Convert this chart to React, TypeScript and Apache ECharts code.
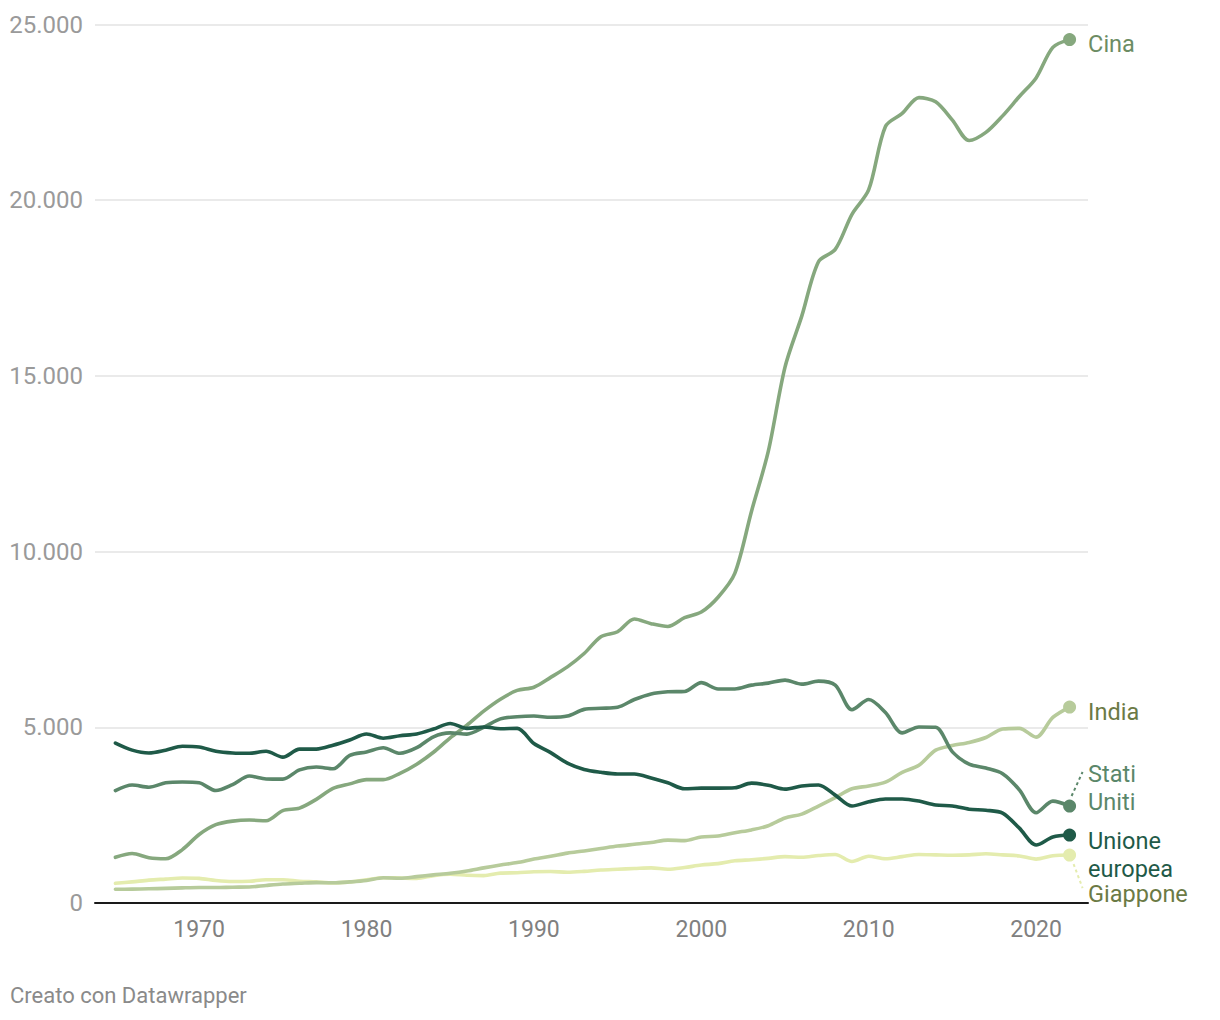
import React, { useEffect, useRef } from "react";
import * as echarts from "echarts";

const FIRST_YEAR = 1965;
const LAST_YEAR = 2022;
const years: number[] = [];
for (let y = FIRST_YEAR; y <= LAST_YEAR; y++) years.push(y);

const cina = [
  1300, 1410, 1290, 1260, 1520, 1950, 2230, 2330, 2360, 2340, 2630, 2700, 2950, 3260, 3390, 3510, 3510, 3690, 3950, 4290,
  4700, 5060, 5460, 5800, 6050, 6140, 6420, 6720, 7100, 7580, 7720, 8080, 7950, 7870, 8120, 8280, 8700, 9380, 11150, 12850,
  15250, 16700, 18250, 18600, 19600, 20300, 22100, 22470, 22920, 22800, 22280, 21700, 21930, 22400, 22950, 23480, 24350, 24570,
];
const statiUniti = [
  3200, 3356, 3295, 3420, 3445, 3420, 3200, 3370, 3612, 3530, 3525, 3790, 3870, 3820, 4200, 4300, 4420, 4260, 4420, 4730,
  4840, 4806, 5000, 5240, 5300, 5320, 5285, 5320, 5510, 5540, 5570, 5790, 5950, 6010, 6020, 6270, 6090, 6090, 6200, 6257,
  6342, 6228, 6314, 6200, 5500, 5790, 5420, 4840, 5010, 5000, 4300, 3950, 3840, 3680, 3220, 2570, 2900, 2760,
];
const unioneEuropea = [
  4550, 4350, 4270, 4350, 4460, 4440, 4320, 4270, 4260, 4320, 4150, 4380, 4380, 4490, 4640, 4810, 4690, 4760, 4810, 4950,
  5110, 4970, 5010, 4960, 4970, 4540, 4280, 3980, 3800, 3720, 3670, 3670, 3560, 3420, 3250, 3270, 3270, 3280, 3410, 3350,
  3240, 3330, 3360, 3070, 2760, 2880, 2960, 2960, 2900, 2790, 2760, 2670, 2640, 2560, 2130, 1650, 1880, 1934,
];
const india = [
  390, 395, 405, 415, 430, 440, 440, 450, 455, 500, 540, 560, 580, 575, 600, 640, 720, 705, 750, 800,
  845, 910, 1000, 1080, 1150, 1250, 1330, 1420, 1480, 1550, 1620, 1670, 1720, 1790, 1775, 1880, 1905, 2000, 2080, 2200,
  2420, 2530, 2760, 3000, 3250, 3330, 3440, 3720, 3920, 4350, 4480, 4570, 4710, 4950, 4970, 4720, 5280, 5575,
];
const giappone = [
  560, 600, 650, 680, 710, 700, 640, 610, 620, 660, 660, 620, 600, 570, 600, 660, 720, 710, 700, 780,
  820, 790, 780, 850, 860, 890, 895, 875, 900, 940, 960, 980, 1000, 960, 1010, 1080, 1120, 1200, 1230, 1270,
  1320, 1300, 1350, 1380, 1180, 1330, 1260, 1320, 1380, 1370, 1360, 1370, 1400, 1370, 1340, 1250, 1345, 1365,
];

const Y_TICKS = [0, 5000, 10000, 15000, 20000, 25000];
const X_LABEL_STEP = 10;

type S = { name: string; label: string; values: number[]; color: string; textColor: string; dy: number };
const seriesDefs: S[] = [
  { name: "Giappone", label: "Giappone", values: giappone, color: "#e4ecae", textColor: "#6b7a45", dy: 39 },
  { name: "India", label: "India", values: india, color: "#b7cb9b", textColor: "#6b7a45", dy: 5 },
  { name: "Cina", label: "Cina", values: cina, color: "#86a87e", textColor: "#6c8c63", dy: 4 },
  { name: "Stati Uniti", label: "Stati\nUniti", values: statiUniti, color: "#5b876a", textColor: "#5b876a", dy: -18 },
  { name: "Unione europea", label: "Unione\neuropea", values: unioneEuropea, color: "#1f5a48", textColor: "#1f5a48", dy: 20 },
];

const fmtThousands = (v: number) => String(v).replace(/\B(?=(\d{3})+(?!\d))/g, ".");

export default function App() {
  const ref = useRef<HTMLDivElement>(null);
  useEffect(() => {
    if (!ref.current) return;
    const chart = echarts.init(ref.current, undefined, { renderer: "svg" });
    const series: any[] = [];
    seriesDefs.forEach((s) => {
      series.push({
        type: "line",
        name: s.name,
        data: years.map((y, i) => [y, s.values[i]]),
        smooth: 0.3,
        symbol: "none",
        silent: true,
        lineStyle: { width: 3.6, color: s.color, cap: "round", join: "round" },
        z: 2,
      });
    });
    seriesDefs.forEach((s) => {
      series.push({
        type: "scatter",
        name: s.name + "-end",
        data: [[LAST_YEAR, s.values[s.values.length - 1]]],
        symbolSize: 13,
        silent: true,
        itemStyle: { color: s.color, opacity: 1 },
        z: 3,
        label: {
          show: true,
          position: "right",
          distance: 12,
          offset: [0, s.dy],
          formatter: s.label,
          color: s.textColor,
          opacity: 1,
          fontSize: 23.5,
          lineHeight: 27.5,
          fontFamily: "Roboto",
          align: "left",
        },
      });
    });
    chart.setOption({
      animation: false,
      textStyle: { fontFamily: "Roboto" },
      grid: { left: 95, right: 132, top: 24.5, bottom: 117, containLabel: false },
      xAxis: {
        type: "value",
        min: 1963.78,
        max: 2023.1,
        splitNumber: 6,
        axisLine: { show: true, onZero: false, lineStyle: { color: "#1a1a1a", width: 2 } },
        axisTick: { show: false },
        splitLine: { show: false },
        axisLabel: {
          color: "#808080",
          fontSize: 23,
          margin: 15,
          showMinLabel: true,
          showMaxLabel: true,
          formatter: (v: number) => (Math.abs(v % X_LABEL_STEP) < 1e-6 ? String(v) : ""),
        },
      },
      yAxis: {
        type: "value",
        min: Y_TICKS[0],
        max: Y_TICKS[Y_TICKS.length - 1],
        interval: Y_TICKS[1] - Y_TICKS[0],
        axisLine: { show: false },
        axisTick: { show: false },
        splitLine: { show: true, lineStyle: { color: "#e3e3e3", width: 1.5 } },
        axisLabel: { color: "#9a9a9a", fontSize: 24, margin: 12, formatter: (v: number) => fmtThousands(v) },
      },
      series,
    });

    const us = seriesDefs.find((s) => s.name === "Stati Uniti")!;
    const jp = seriesDefs.find((s) => s.name === "Giappone")!;
    const pUs = chart.convertToPixel({ gridIndex: 0 }, [LAST_YEAR, us.values[us.values.length - 1]]) as number[];
    const pJp = chart.convertToPixel({ gridIndex: 0 }, [LAST_YEAR, jp.values[jp.values.length - 1]]) as number[];
    chart.setOption({
      graphic: [
        {
          type: "line",
          silent: true,
          shape: { x1: pUs[0] + 2, y1: pUs[1] - 10, x2: pUs[0] + 13, y2: pUs[1] - 34 },
          style: { stroke: us.color, lineWidth: 2, lineDash: [3, 3] },
        },
        {
          type: "line",
          silent: true,
          shape: { x1: pJp[0] + 4, y1: pJp[1] + 9, x2: pJp[0] + 13, y2: pJp[1] + 33 },
          style: { stroke: jp.color, lineWidth: 2, lineDash: [3, 3] },
        },
        {
          type: "text",
          left: 10,
          top: 984,
          silent: true,
          style: { text: "Creato con Datawrapper", fill: "#8a8a8a", fontSize: 22, fontFamily: "Roboto" },
        },
      ],
    });
    return () => chart.dispose();
  }, []);
  return <div ref={ref} style={{ width: 1220, height: 1020, position: "absolute", left: 0, top: 0 }} />;
}
